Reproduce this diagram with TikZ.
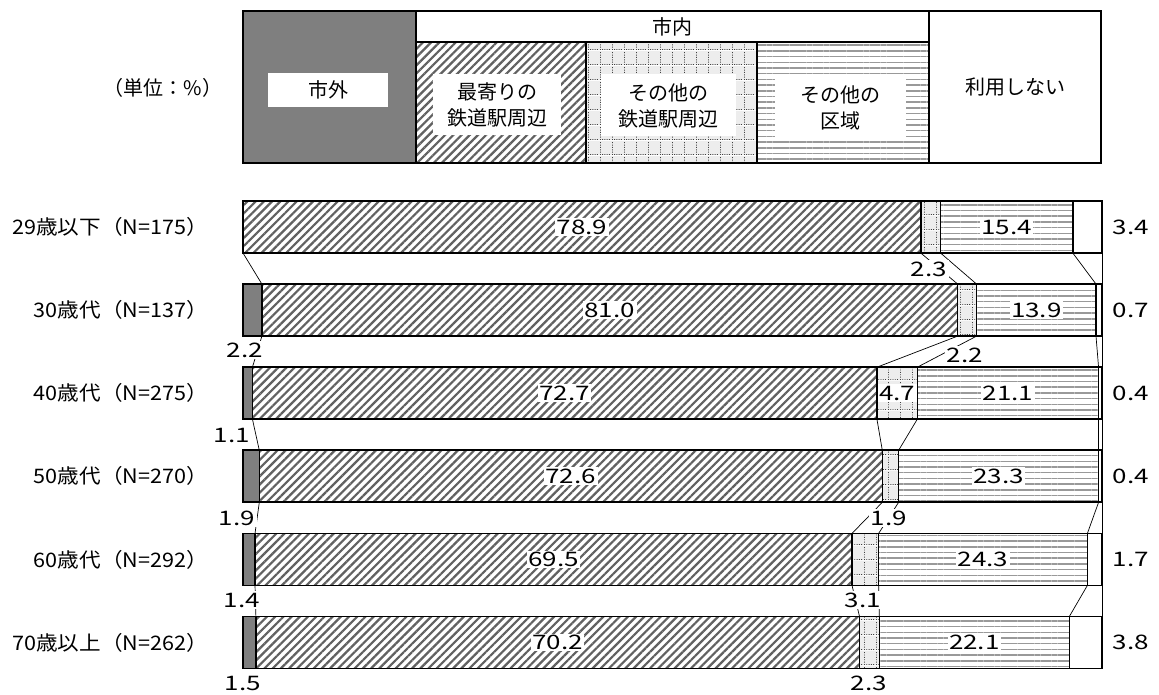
\documentclass[tikz,border=0pt]{standalone}
\usepackage{fontspec}
\setmainfont{Noto Sans CJK JP}
\newfontfamily\rowfont{Noto Sans CJK JP}[FakeStretch=1.08]
\newfontfamily\numfont{Noto Sans CJK JP}[FakeStretch=1.3]
\usetikzlibrary{patterns.meta}
\definecolor{outgray}{RGB}{127,127,127}
\pgfdeclarepattern{
  name=dotgrid,
  type=colored,
  bottom left={\pgfpointorigin},
  top right={\pgfpoint{12pt}{15pt}},
  tile size={\pgfpoint{12pt}{15pt}},
  code={
    \pgfsetfillcolor{black!7}
    \pgfpathrectangle{\pgfpointorigin}{\pgfpoint{12pt}{15pt}}
    \pgfusepath{fill}
    \pgfsetfillcolor{black!75}
    \foreach \k in {0,2.4,...,10}{\pgfpathrectangle{\pgfpoint{\k pt}{0pt}}{\pgfpoint{1pt}{1pt}}\pgfusepath{fill}}
    \foreach \k in {2.5,5,...,13}{\pgfpathrectangle{\pgfpoint{0pt}{\k pt}}{\pgfpoint{1pt}{1pt}}\pgfusepath{fill}}
  }
}
\begin{document}
\begin{tikzpicture}[x=1pt,y=-1pt,
  hatchfill/.style={preaction={fill=white}, pattern={Lines[angle=45,distance=5.8pt,line width=2.2pt]}, pattern color=black!62},
  linefill/.style={preaction={fill=white}, pattern={Lines[angle=0,distance=5.7pt,line width=1.5pt]}, pattern color=black!40},
  dotfill/.style={pattern=dotgrid},
  frame/.style={draw=black, line width=1.8pt},
  segline/.style={draw=black, line width=1.5pt},
  series/.style={draw=black, line width=0.7pt},
  legtxt/.style={font=\fontsize{20}{26}\selectfont, inner sep=0pt, align=center},
  wbox/.style={legtxt, fill=white},
  rowlbl/.style={font=\rowfont\fontsize{20}{24}\selectfont, inner sep=0pt, anchor=east},
  numlbl/.style={font=\numfont\fontsize{20}{24}\selectfont, inner sep=1.5pt},
  wnum/.style={numlbl, fill=white}
]
\useasboundingbox (0,0) rectangle (1159,695);

% ---------- legend ----------
\fill[outgray] (243,11) rectangle (416,163);
\path[hatchfill] (416,42) rectangle (586,163);
\path[dotfill] (586,42) rectangle (757,163);
\path[linefill] (757,42) rectangle (929,163);
\draw[frame] (243,11) rectangle (416,163);
\draw[frame] (416,11) rectangle (929,42);
\draw[frame] (416,42) rectangle (586,163);
\draw[frame] (586,42) rectangle (757,163);
\draw[frame] (757,42) rectangle (929,163);
\draw[frame] (929,11) rectangle (1101,163);
\node[legtxt] (unit) at (163,88) {（単位：\%）};
\node[wbox, minimum width=120, minimum height=34] (lgout) at (328,90) {市外};
\node[legtxt] (lgin) at (672,27) {市内};
\node[wbox, minimum width=128, minimum height=61] (lgnear) at (497,104.5) {最寄りの\\鉄道駅周辺};
\node[wbox, minimum width=135, minimum height=62] (lgrail) at (668,105.5) {その他の\\鉄道駅周辺};
\node[wbox, minimum width=131, minimum height=62] (lgarea) at (840,108) {その他の\\区域};
\node[legtxt] (lgnone) at (1015,87) {利用しない};

% ---------- bars ----------
\foreach \i/\va/\vb/\vc/\vd/\ve/\lab in {
  0/0/78.9/2.3/15.4/3.4/{29歳以下（N=175）},
  1/2.2/81.0/2.2/13.9/0.7/{30歳代（N=137）},
  2/1.1/72.7/4.7/21.1/0.4/{40歳代（N=275）},
  3/1.9/72.6/1.9/23.3/0.4/{50歳代（N=270）},
  4/1.4/69.5/3.1/24.3/1.7/{60歳代（N=292）},
  5/1.5/70.2/2.3/22.1/3.8/{70歳以上（N=262）}}{
  \pgfmathsetmacro\tot{\va+\vb+\vc+\vd+\ve}
  \pgfmathsetmacro\xa{243+(\va)/\tot*859}
  \pgfmathsetmacro\xb{243+(\va+\vb)/\tot*859}
  \pgfmathsetmacro\xc{243+(\va+\vb+\vc)/\tot*859}
  \pgfmathsetmacro\xd{243+(\va+\vb+\vc+\vd)/\tot*859}
  \pgfmathsetmacro\yt{201+83.1*\i}
  \pgfmathsetmacro\yb{\yt+52}
  \pgfmathsetmacro\yc{\yt+26}
  \fill[outgray] (243,\yt) rectangle (\xa,\yb);
  \path[hatchfill] (\xa,\yt) rectangle (\xb,\yb);
  \path[dotfill] (\xb,\yt) rectangle (\xc,\yb);
  \path[linefill] (\xc,\yt) rectangle (\xd,\yb);
  \draw[segline] (\xa,\yt) -- (\xa,\yb) (\xb,\yt) -- (\xb,\yb)
                 (\xc,\yt) -- (\xc,\yb) (\xd,\yt) -- (\xd,\yb);
  \draw[frame] (243,\yt) rectangle (1102,\yb);
  \coordinate (t\i-1) at (\xa,\yt); \coordinate (b\i-1) at (\xa,\yb);
  \coordinate (t\i-2) at (\xb,\yt); \coordinate (b\i-2) at (\xb,\yb);
  \coordinate (t\i-3) at (\xc,\yt); \coordinate (b\i-3) at (\xc,\yb);
  \coordinate (t\i-4) at (\xd,\yt); \coordinate (b\i-4) at (\xd,\yb);
  \coordinate (t\i-5) at (1102,\yt); \coordinate (b\i-5) at (1102,\yb);
  \coordinate (h\i) at ({(\xa+\xb)/2},\yc);
  \coordinate (a\i) at ({(\xc+\xd)/2},\yc);
  \coordinate (d\i) at ({(\xb+\xc)/2},\yc);
  \node[rowlbl] (row\i) at (208,\yc) {\lab};
  \node[numlbl] (none\i) at (1131,\yc) {\ve};
  \path (h\i) node[wnum] (nearv\i) {\vb};
  \path (a\i) node[wnum] (areav\i) {\vd};
}

% ---------- series lines ----------
\foreach \i in {0,...,4}{
  \pgfmathtruncatemacro\j{\i+1}
  \foreach \k in {1,...,5}{
    \draw[series] (b\i-\k) -- (t\j-\k);
  }
}

% ---------- outside labels ----------
\node[wnum] (out1) at (245,350) {2.2};
\node[wnum] (out2) at (232,435) {1.1};
\node[wnum] (out3) at (237,518) {1.9};
\node[wnum] (out4) at (242,600) {1.4};
\node[wnum] (out5) at (243,683) {1.5};
\node[wnum] (rail0) at (929,269) {2.3};
\node[wnum] (rail1) at (965,355) {2.2};
\path (d2) node[wnum] (rail2) {4.7};
\node[wnum] (rail3) at (889,518) {1.9};
\node[wnum] (rail4) at (863,600) {3.1};
\node[wnum] (rail5) at (869,683) {2.3};
\end{tikzpicture}
\end{document}
